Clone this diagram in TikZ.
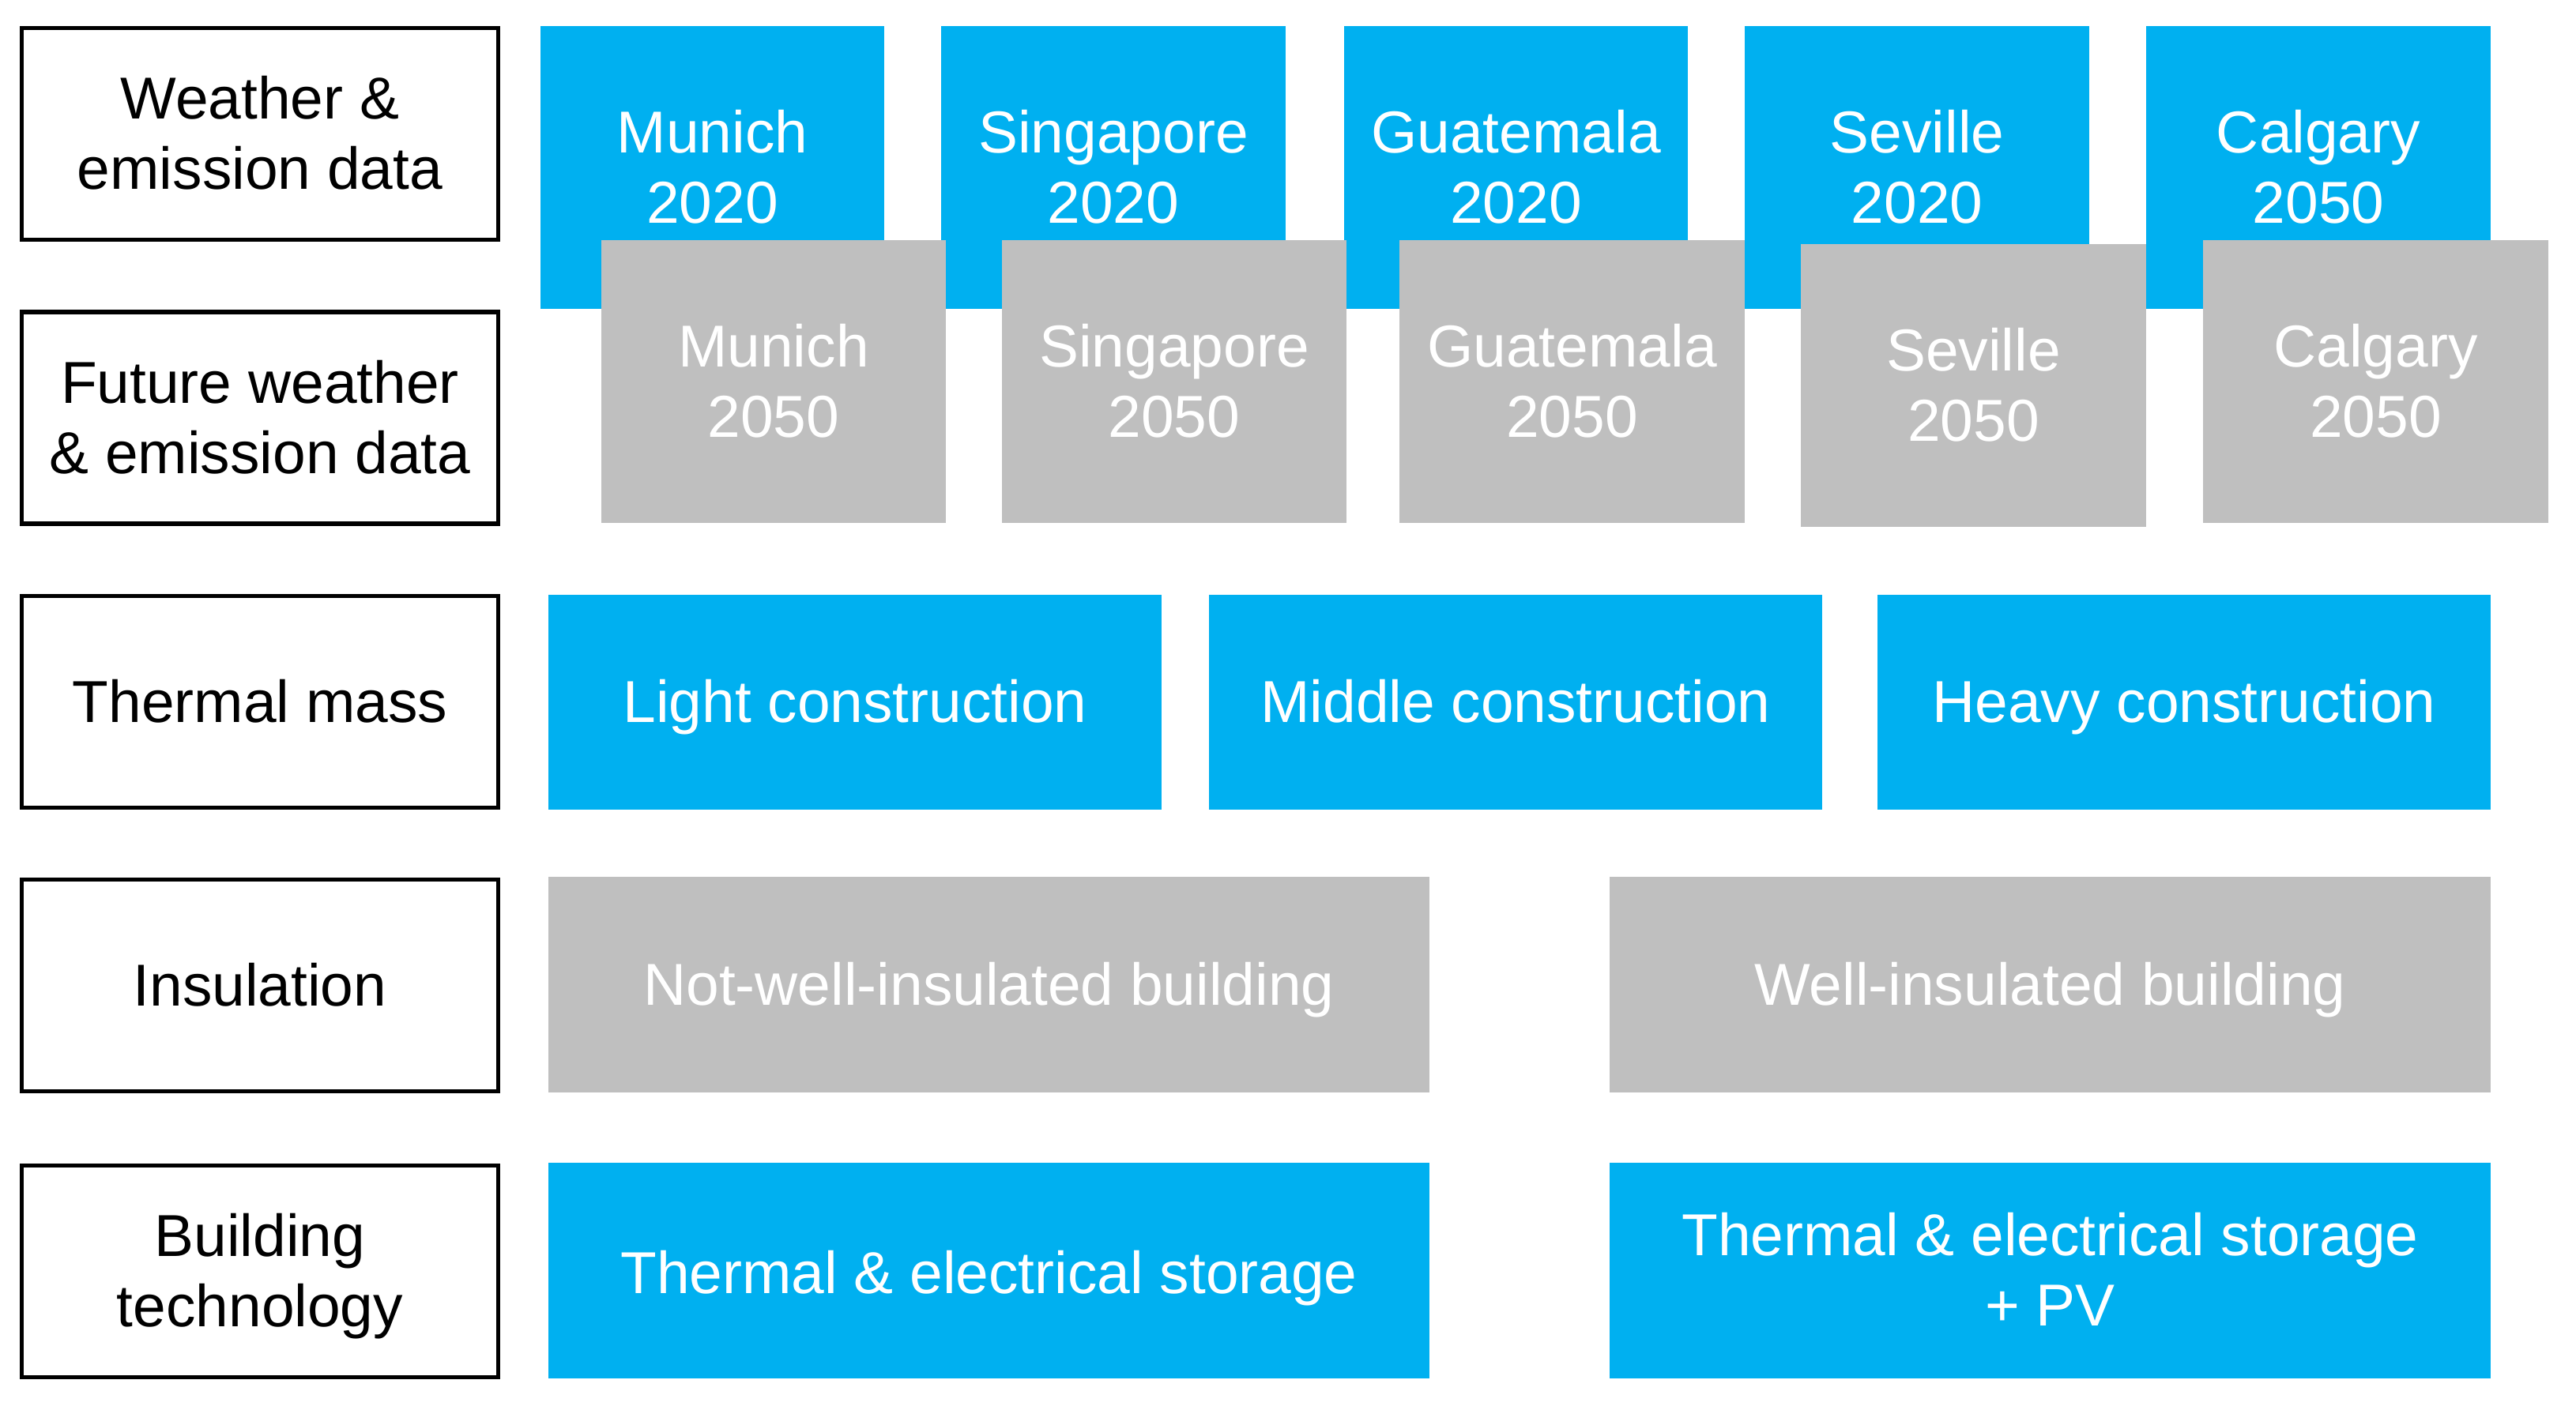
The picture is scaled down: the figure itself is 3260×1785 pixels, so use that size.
\documentclass[tikz,border=0pt]{standalone}
\usepackage{fontspec}
\setmainfont{Liberation Sans}
\definecolor{cblue}{HTML}{00B0F0}
\definecolor{cgray}{HTML}{BFBFBF}
\newcommand\mytopstrut{\rule{0pt}{0.905em}}
\newcommand\ts{\rule{0pt}{0.9em}}
\newcommand\mybotstrut{\rule[-0.212em]{0pt}{0.212em}}
\begin{document}
\begin{tikzpicture}[x=0.01cm,y=-0.01cm,
  every node/.style={inner sep=0pt, align=center, font=\fontsize{21.3}{25.3}\selectfont,
    execute at begin node=\mytopstrut, execute at end node=\mybotstrut},
  labelbox/.style={draw=black, line width=1.5pt, fill=white, text=black, minimum width=6.03cm, minimum height=2.68cm},
  bluebox/.style={fill=cblue, text=white},
  graybox/.style={fill=cgray, text=white},
  cityblue/.style={bluebox, minimum width=4.35cm, minimum height=3.58cm},
  citygray/.style={graybox, minimum width=4.36cm, minimum height=3.58cm},
  wide3/.style={minimum width=7.76cm, minimum height=2.72cm},
  wide2/.style={minimum width=11.15cm, minimum height=2.72cm}]
\useasboundingbox (0,0) rectangle (3260,1785);
% left labels
\node[labelbox] (l1) at (329,169.5) {\ts Weather \&\\emission data};
\node[labelbox] (l2) at (329,529) {\ts Future weather\\\& emission data};
\node[labelbox] (l3) at (329,888.5) {Thermal mass};
\node[labelbox] (l4) at (329,1247.5) {Insulation};
\node[labelbox] (l5) at (329,1609.5) {\ts Building\\technology};
% top blue
\node[cityblue] (b1) at (901.5,212) {\ts Munich\\2020};
\node[cityblue] (b2) at (1409,212) {\ts Singapore\\2020};
\node[cityblue] (b3) at (1918.5,212) {\ts Guatemala\\2020};
\node[cityblue] (b4) at (2426,212) {\ts Seville\\2020};
\node[cityblue] (b5) at (2934,212) {\ts Calgary\\2050};
% gray future
\node[citygray] (g1) at (979,483) {\ts Munich\\2050};
\node[citygray] (g2) at (1486,483) {\ts Singapore\\2050};
\node[citygray] (g3) at (1989.5,483) {\ts Guatemala\\2050};
\node[citygray] (g4) at (2497.5,488) {\ts Seville\\2050};
\node[citygray] (g5) at (3006.5,483) {\ts Calgary\\2050};
% thermal mass
\node[bluebox, wide3] (t1) at (1082,889) {Light construction};
\node[bluebox, wide3] (t2) at (1918,889) {Middle construction};
\node[bluebox, wide3] (t3) at (2764,889) {Heavy construction};
% insulation
\node[graybox, wide2] (i1) at (1251.5,1246.5) {Not-well-insulated building};
\node[graybox, wide2] (i2) at (2594.5,1246.5) {Well-insulated building};
% technology
\node[bluebox, wide2] (s1) at (1251.5,1608.5) {\rule{0pt}{\dimexpr0.905em+1.5pt\relax}Thermal \& electrical storage};
\node[bluebox, wide2] (s2) at (2594.5,1608.5) {\ts Thermal \& electrical storage\\+ PV};
\end{tikzpicture}
\end{document}
